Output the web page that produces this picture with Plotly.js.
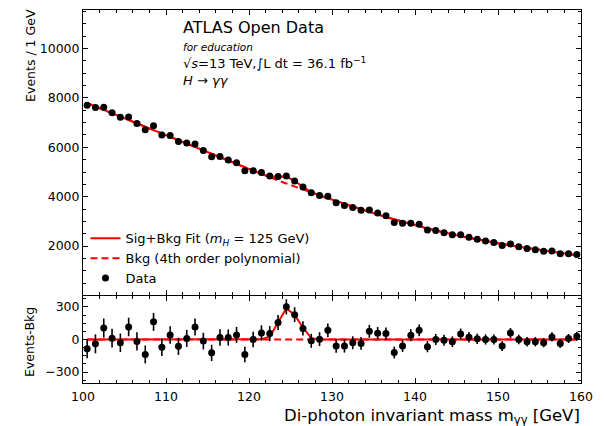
<!DOCTYPE html>
<html><head><meta charset="utf-8">
<script src="https://cdn.plot.ly/plotly-3.0.1.min.js"></script>
<style>html,body{margin:0;padding:0;background:#fff}#plot{width:605px;height:426px}</style>
</head><body><div id="plot"></div>
<script>
const massGeV = [100.5,101.5,102.5,103.5,104.5,105.5,106.5,107.5,108.5,109.5,
  110.5,111.5,112.5,113.5,114.5,115.5,116.5,117.5,118.5,119.5,
  120.5,121.5,122.5,123.5,124.5,125.5,126.5,127.5,128.5,129.5,
  130.5,131.5,132.5,133.5,134.5,135.5,136.5,137.5,138.5,139.5,
  140.5,141.5,142.5,143.5,144.5,145.5,146.5,147.5,148.5,149.5,
  150.5,151.5,152.5,153.5,154.5,155.5,156.5,157.5,158.5,159.5];
const dataEvents = [7705,7615,7625,7397,7220,7230,6962,6707,6872,6503,
  6482,6238,6172,6137,5869,5622,5624,5485,5370,5051,
  5050,4978,4842,4816,4834,4638,4390,4156,4053,4018,
  3760,3648,3568,3454,3459,3337,3232,2960,2924,2930,
  2885,2648,2630,2543,2455,2455,2355,2273,2203,2141,
  2022,2086,1972,1899,1849,1791,1797,1690,1688,1662];
const bkgFit = [7790,7655,7520,7385,7250,7115,6980,6845,6710,6575,
  6440,6301,6162,6023,5884,5745,5606,5467,5328,5189,
  5050,4918,4788,4660,4534,4410,4288,4168,4050,3934,
  3820,3708,3598,3490,3384,3280,3178,3080,2984,2891,
  2801,2714,2630,2549,2476,2404,2334,2267,2203,2141,
  2082,2026,1972,1920,1870,1821,1773,1726,1679,1632];
const sigFit = [0,0,0,0,0,0,0,0,0,0,
  0,0,0,0,0,0,0,0,0,0,
  0,3,25,150,288,225,110,12,0,0,
  0,0,0,0,0,0,0,0,0,0,
  0,0,0,0,0,0,0,0,0,0,
  0,0,0,0,0,0,0,0,0,0];
const residual = [-85,-40,105,12,-30,115,-18,-138,162,-72,
  42,-63,10,114,-15,-123,18,18,42,-138,
  0,60,54,156,300,228,102,-12,3,84,
  -60,-60,-30,-36,75,57,54,-120,-60,39,
  84,-66,0,-6,-21,51,21,6,0,0,
  -60,60,0,-21,-21,-30,24,-36,9,30];
const zeroBkg = massGeV.map(() => 0);
const mainYTicks = [2000,4000,6000,8000,10000];
const mainYTickText = ['2000','4000','6000','8000','10000'];
const resYTicks = [-300,0,300];
const resYTickText = ['\u2212300','0','300'];
const xTicks = [100,110,120,130,140,150,160];

const sigPlusBkg = bkgFit.map((b,i) => b + sigFit[i]);
const dataErr = dataEvents.map(v => Math.sqrt(v));

const RED = '#ff0000';
const FONT = 'DejaVu Sans, sans-serif';

const traces = [
  {x: massGeV, y: bkgFit, xaxis:'x2', yaxis:'y2', mode:'lines', name:'Bkg (4th order polynomial)',
   line:{color:RED, width:2, dash:'7px,4px'}, legendrank:2},
  {x: massGeV, y: sigPlusBkg, xaxis:'x2', yaxis:'y2', mode:'lines', name:'Sig+Bkg Fit (<i>m<sub>H</sub></i> = 125 GeV)',
   line:{color:RED, width:2}, legendrank:1},
  {x: massGeV, y: dataEvents, xaxis:'x2', yaxis:'y2', mode:'markers', name:'Data',
   marker:{color:'black', size:7}, error_y:{type:'data', array:dataErr, visible:true, color:'black', thickness:1.6, width:0}, legendrank:3},
  {x: massGeV, y: zeroBkg, xaxis:'x', yaxis:'y', mode:'lines', showlegend:false,
   line:{color:RED, width:2, dash:'7px,4px'}},
  {x: massGeV, y: sigFit, xaxis:'x', yaxis:'y', mode:'lines', showlegend:false,
   line:{color:RED, width:2}},
  {x: massGeV, y: residual, xaxis:'x', yaxis:'y', mode:'markers', showlegend:false,
   marker:{color:'black', size:7}, error_y:{type:'data', array:dataErr, visible:true, color:'black', thickness:1.6, width:0}}
];

const axCommon = {showline:true, linecolor:'black', linewidth:1, mirror:'allticks', ticks:'inside',
  ticklen:5, tickwidth:1, tickcolor:'black', showgrid:false, zeroline:false,
  tickfont:{family:FONT, size:12.5, color:'black'}};

const layout = {
  width:605, height:426,
  margin:{l:83, r:24, t:10, b:43},
  paper_bgcolor:'white', plot_bgcolor:'white',
  font:{family:FONT, color:'black'},
  showlegend:true,
  legend:{x:0.005, y:0.428, xanchor:'left', yanchor:'top', bgcolor:'rgba(0,0,0,0)',
    font:{family:FONT, size:13, color:'black'}, tracegroupgap:0},
  xaxis: Object.assign({}, axCommon, {domain:[0,1], anchor:'y', range:[100,160], tickvals:xTicks,
    ticklabelstandoff:2,
    minor:{dtick:2, tick0:100, ticks:'inside', ticklen:3, tickcolor:'black', showgrid:false}}),
  yaxis: Object.assign({}, axCommon, {domain:[0,0.2333], anchor:'x', range:[-400,400], tickvals:resYTicks, ticktext:resYTickText,
    minor:{dtick:75, tick0:0, ticks:'inside', ticklen:3, tickcolor:'black', showgrid:false}}),
  xaxis2: Object.assign({}, axCommon, {domain:[0,1], anchor:'y2', range:[100,160], tickvals:xTicks, showticklabels:false,
    minor:{dtick:2, tick0:100, ticks:'inside', ticklen:3, tickcolor:'black', showgrid:false}}),
  yaxis2: Object.assign({}, axCommon, {domain:[0.2346,1], anchor:'x2', range:[0,11560], tickvals:mainYTicks, ticktext:mainYTickText,
    minor:{dtick:500, tick0:0, ticks:'inside', ticklen:3, tickcolor:'black', showgrid:false}}),
  annotations:[
    {xref:'paper', yref:'paper', x:0.197, y:0.952, xanchor:'left', yanchor:'middle', showarrow:false,
     text:'ATLAS Open Data', font:{family:FONT, size:16, color:'black'}},
    {xref:'paper', yref:'paper', x:0.197, y:0.902, xanchor:'left', yanchor:'middle', showarrow:false,
     text:'<i>for education</i>', font:{family:FONT, size:10.5, color:'black'}},
    {xref:'paper', yref:'paper', x:0.197, y:0.857, xanchor:'left', yanchor:'middle', showarrow:false,
     text:'\u221A<i>s</i>=13 TeV,\u222BL dt = 36.1 fb<sup>\u22121</sup>', font:{family:FONT, size:13, color:'black'}},
    {xref:'paper', yref:'paper', x:0.197, y:0.812, xanchor:'left', yanchor:'middle', showarrow:false,
     text:'<i>H</i> \u2192 <i>\u03B3\u03B3</i>', font:{family:FONT, size:13, color:'black'}},
    {xref:'paper', yref:'paper', x:-0.1044, y:0.877, xanchor:'center', yanchor:'middle', showarrow:false, textangle:-90,
     text:'Events / 1 GeV', font:{family:FONT, size:12.5, color:'black'}},
    {xref:'paper', yref:'paper', x:-0.1064, y:0.11, xanchor:'center', yanchor:'middle', showarrow:false, textangle:-90,
     text:'Events-Bkg', font:{family:FONT, size:12.5, color:'black'}},
    {xref:'paper', yref:'paper', x:1.003, y:-0.09, xanchor:'right', yanchor:'middle', showarrow:false,
     text:'Di-photon invariant mass m<sub>\u03B3\u03B3</sub> [GeV]', font:{family:FONT, size:16.5, color:'black'}}
  ]
};

Plotly.newPlot('plot', traces, layout, {displayModeBar:false, staticPlot:true});
</script>
</body></html>
